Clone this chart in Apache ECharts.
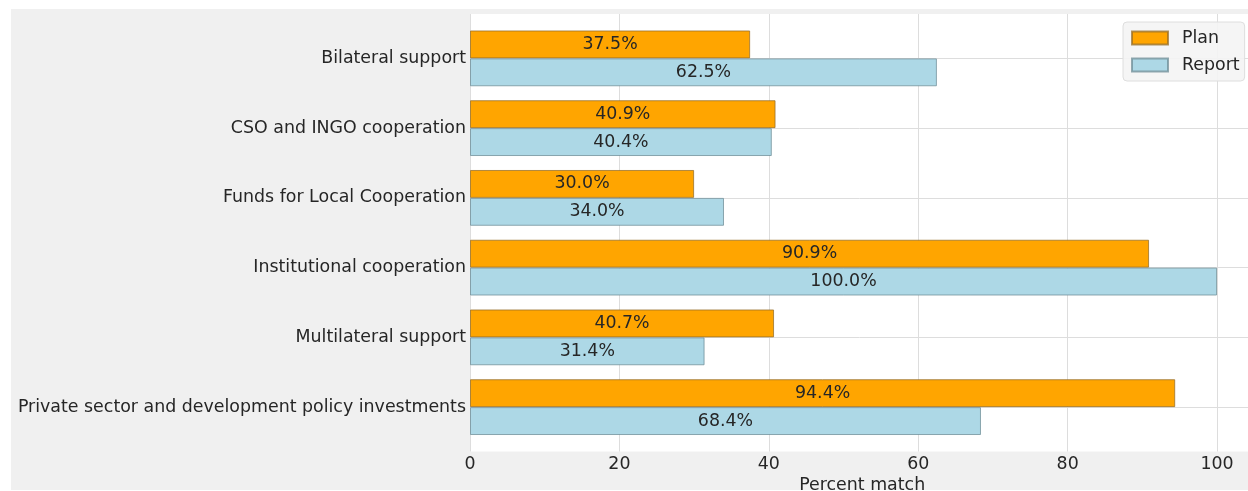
<!DOCTYPE html>
<html>
<head>
<meta charset="utf-8">
<script src="https://cdn.jsdelivr.net/npm/echarts@6/dist/echarts.min.js"></script>
<style>
  html, body { margin: 0; padding: 0; background: #ffffff; }
  #chart { width: 1248px; height: 491px; }
</style>
</head>
<body>
<div id="chart"></div>
<script>
// Support channels, top to bottom
const categories = [
  'Bilateral support',
  'CSO and INGO cooperation',
  'Funds for Local Cooperation',
  'Institutional cooperation',
  'Multilateral support',
  'Private sector and development policy investments'
];
// Percent match per channel
const planValues = [37.5, 40.9, 30.0, 90.9, 40.7, 94.4];
const reportValues = [62.5, 40.4, 34.0, 100.0, 31.4, 68.4];
const xTicks = [0, 20, 40, 60, 80, 100];

const FONT = 'DejaVu Sans';
const FS = 17.4;
const TEXT = '#262626';
const X_MIN = 0, X_MAX = 105;

// plot frame
const plotLeft = 470, plotWidth = 784.4;
const plotTop = 14, plotHeight = 437.5;
const band = 69.75;
const barsTop = 23.5;

const chart = echarts.init(document.getElementById('chart'), null, { renderer: 'canvas' });

const barLabel = {
  show: true,
  position: 'inside',
  color: TEXT,
  fontFamily: FONT,
  fontSize: FS,
  formatter: p => p.value.toFixed(1) + '%'
};

const gridBase = { left: plotLeft, width: plotWidth, outerBoundsMode: 'none', containLabel: false };

chart.setOption({
  animation: false,
  backgroundColor: 'transparent',
  graphic: [{
    type: 'rect',
    z: -10,
    shape: { x: 11, y: 9, width: 1248, height: 481 },
    style: { fill: '#f0f0f0' },
    silent: true
  }],
  legend: {
    orient: 'vertical',
    left: 1123,
    top: 22,
    padding: [7.5, 5, 7.5, 8],
    itemGap: 10,
    itemWidth: 36,
    itemHeight: 13,
    icon: 'rect',
    backgroundColor: 'rgba(244,244,244,0.9)',
    borderColor: '#dedede',
    borderWidth: 1,
    borderRadius: 4,
    textStyle: {
      color: TEXT,
      fontFamily: FONT,
      fontSize: FS,
      lineHeight: 16,
      padding: [0, 0, 0, 9]
    },
    data: ['Plan', 'Report']
  },
  grid: [
    // white plot area with vertical gridlines and the x scale
    Object.assign({ top: plotTop, height: plotHeight, show: true,
      backgroundColor: '#ffffff', borderWidth: 0, z: 0 }, gridBase),
    // horizontal gridlines through the category centres
    Object.assign({ top: barsTop + band / 2, height: band * 5, z: 1 }, gridBase),
    // bars
    Object.assign({ top: barsTop, height: band * 6, z: 2 }, gridBase)
  ],
  xAxis: [
    {
      gridIndex: 0, type: 'value', min: X_MIN, max: X_MAX, interval: 20,
      axisLine: { show: false }, axisTick: { show: false },
      splitLine: { show: true, lineStyle: { color: '#dddddd', width: 1 } },
      axisLabel: {
        color: TEXT, fontFamily: FONT, fontSize: FS, margin: 4,
        formatter: v => (xTicks.includes(v) ? String(v) : '')
      },
      name: 'Percent match', nameLocation: 'middle', nameGap: 20,
      nameTextStyle: { color: TEXT, fontFamily: FONT, fontSize: FS }
    },
    { gridIndex: 1, type: 'value', min: X_MIN, max: X_MAX, show: false },
    { gridIndex: 2, type: 'value', min: X_MIN, max: X_MAX, show: false }
  ],
  yAxis: [
    { gridIndex: 0, type: 'value', show: false },
    {
      gridIndex: 1, type: 'category', data: categories, inverse: true, boundaryGap: false,
      axisLine: { show: false }, axisTick: { show: false }, axisLabel: { show: false },
      splitLine: { show: true, lineStyle: { color: '#dddddd', width: 1 } }
    },
    {
      gridIndex: 2, type: 'category', data: categories, inverse: true,
      axisLine: { show: false }, axisTick: { show: false },
      splitLine: { show: false },
      axisLabel: { color: TEXT, fontFamily: FONT, fontSize: FS, margin: 4, padding: [2, 0, 0, 0] }
    }
  ],
  series: [
    {
      name: 'Plan', type: 'bar', xAxisIndex: 2, yAxisIndex: 2, z: 3,
      data: planValues, barWidth: '40%', barGap: '0%',
      itemStyle: { color: '#ffa500', borderColor: 'rgba(150,110,40,0.75)', borderWidth: 1 },
      label: barLabel
    },
    {
      name: 'Report', type: 'bar', xAxisIndex: 2, yAxisIndex: 2, z: 3,
      data: reportValues, barWidth: '40%', barGap: '0%',
      itemStyle: { color: '#add8e6', borderColor: 'rgba(110,140,150,0.75)', borderWidth: 1 },
      label: barLabel
    }
  ]
});
</script>
</body>
</html>
